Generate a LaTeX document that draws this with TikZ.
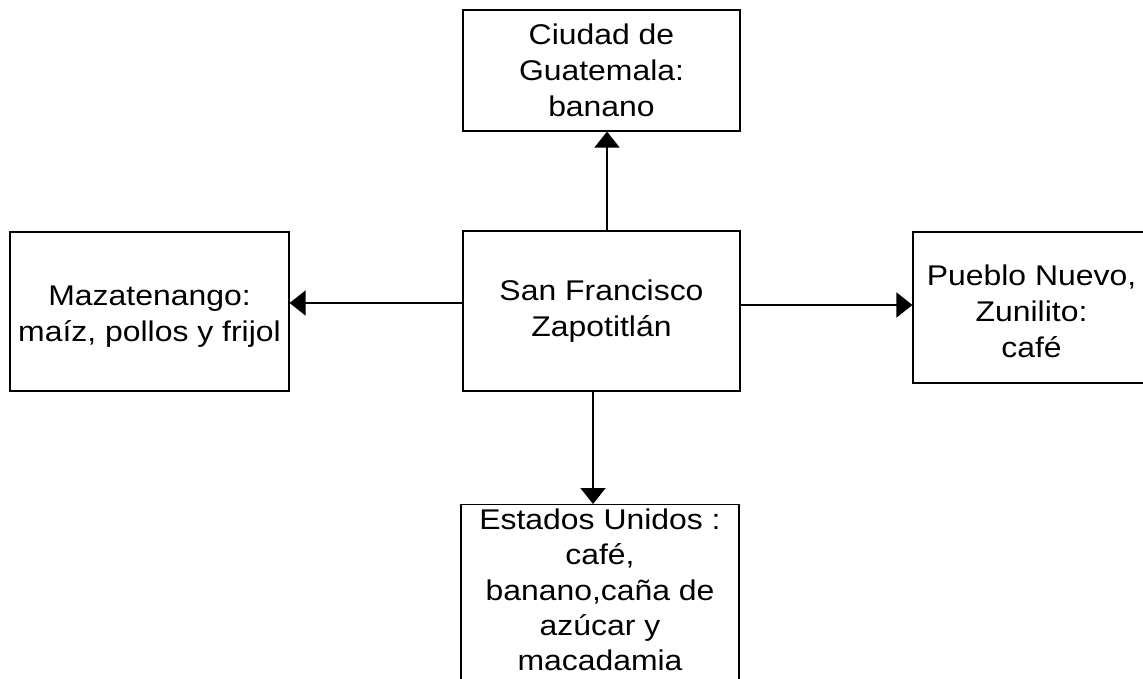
\documentclass[tikz,border=0pt]{standalone}
\usepackage{fontspec}
\setmainfont[FakeStretch=1.12]{Liberation Sans}
\usetikzlibrary{arrows.meta}
\begin{document}
\begin{tikzpicture}[x=1pt,y=-1pt,
  box/.style={draw=black,line width=1.2pt,align=center,inner sep=2pt,
    font=\fontsize{28.5pt}{36pt}\selectfont},
  arr/.style={line width=1.8pt,-{Triangle[length=16pt,width=25pt]}}]
\clip (0,0) rectangle (1143,679);
\fill[white] (0,0) rectangle (1143,679);
\node[box,minimum width=277pt,minimum height=121pt] (t) at (601.5,70.5) {Ciudad de\\Guatemala:\\banano};
\node[box,minimum width=277pt,minimum height=160pt] (c) at (601.5,311) {San Francisco\\Zapotitlán};
\node[box,minimum width=279pt,minimum height=159pt] (l) at (149.5,311.5) {\rule{0pt}{29pt}Mazatenango:\\maíz, pollos y frijol};
\node[box,minimum width=237pt,minimum height=151pt] (r) at (1031.5,307.5) {\rule{0pt}{29pt}Pueblo Nuevo,\\Zunilito:\\café};
\node[box,anchor=north,minimum width=278pt,font=\fontsize{28.5pt}{35.3pt}\selectfont] (b) at (600,504) {\rule{0pt}{23pt}Estados Unidos :\\café,\\banano,caña de\\azúcar y\\macadamia\\\rule{0pt}{0pt}};
\draw[arr] ([xshift=5.5pt]c.north) -- ([xshift=5.5pt]c.north |- t.south);
\draw[arr] ([yshift=8pt]c.west) -- ([yshift=8pt]c.west -| l.east);
\draw[arr] ([yshift=6pt]c.east) -- ([yshift=6pt]c.east -| r.west);
\draw[arr] ([xshift=-8.5pt]c.south) -- ([xshift=-8.5pt]c.south |- b.north);
\end{tikzpicture}
\end{document}
